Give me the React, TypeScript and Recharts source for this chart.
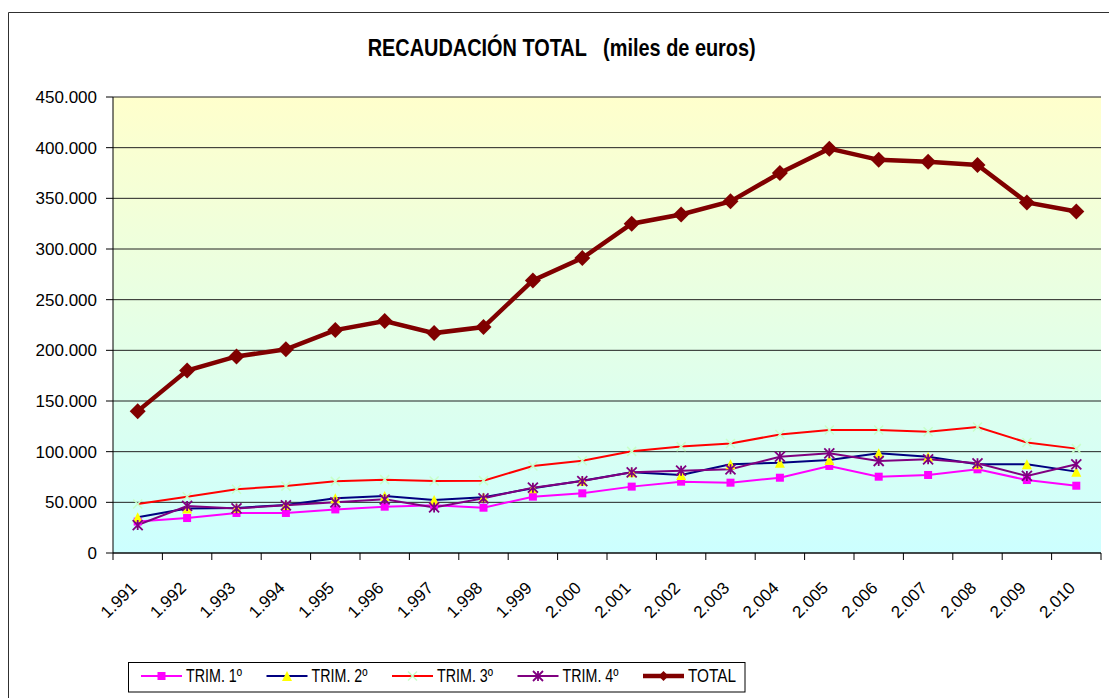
import React from 'react';
import { LineChart, Line, XAxis, YAxis, CartesianGrid } from 'recharts';

// Años (etiquetas del eje X)
const years = [
  '1.991', '1.992', '1.993', '1.994', '1.995', '1.996', '1.997', '1.998', '1.999', '2.000',
  '2.001', '2.002', '2.003', '2.004', '2.005', '2.006', '2.007', '2.008', '2.009', '2.010'
];

// Recaudación en miles de euros
const trim1 = [31000, 34500, 39500, 39500, 43000, 45700, 47000, 44700, 55600, 58900, 65500, 70400, 69400, 74300, 85900, 75300, 77000, 82600, 72000, 66400];
const trim2 = [35200, 44000, 44500, 47400, 54000, 56200, 52300, 55000, 63800, 71400, 79600, 77000, 87500, 89100, 91800, 98400, 95000, 87500, 87500, 80300];
const trim3 = [48400, 55600, 63000, 66000, 70700, 72400, 71000, 71400, 85900, 91000, 100300, 105000, 108000, 117000, 121400, 121400, 119700, 124300, 109000, 103000];
const trim4 = [27600, 46400, 44000, 47000, 50000, 53000, 45000, 54000, 64500, 71000, 79600, 81200, 82600, 95000, 98400, 90800, 92500, 88500, 76000, 87500];
const total = [140000, 180000, 194000, 201000, 220000, 229000, 217000, 223000, 269000, 291000, 325000, 334000, 347000, 375000, 399000, 388000, 386000, 383000, 346000, 337000];

const yTicks = [0, 50000, 100000, 150000, 200000, 250000, 300000, 350000, 400000, 450000];

const W = 1109;
const H = 698;
const PLOT_LEFT = 113;
const PLOT_RIGHT = 1101;
const PLOT_TOP = 97;
const PLOT_BOTTOM = 553;
const STEP = (PLOT_RIGHT - PLOT_LEFT) / years.length;
const FONT = '"Liberation Sans", Arial, sans-serif';

const data = years.map((year, i) => ({
  year,
  t1: trim1[i],
  t2: trim2[i],
  t3: trim3[i],
  t4: trim4[i],
  total: total[i]
}));

type Shape = 'square' | 'triangle' | 'cross' | 'star' | 'diamond';

const series: { key: string; name: string; stroke: string; width: number; shape: Shape; fill: string; size: number }[] = [
  { key: 't1', name: 'TRIM. 1º', stroke: '#FF00FF', width: 2, shape: 'square', fill: '#FF00FF', size: 8 },
  { key: 't2', name: 'TRIM. 2º', stroke: '#000080', width: 2, shape: 'triangle', fill: '#FFFF00', size: 10 },
  { key: 't3', name: 'TRIM. 3º', stroke: '#FF0000', width: 2, shape: 'cross', fill: '#C8FFC8', size: 9 },
  { key: 't4', name: 'TRIM. 4º', stroke: '#800080', width: 2, shape: 'star', fill: '#800080', size: 10 },
  { key: 'total', name: 'TOTAL', stroke: '#800000', width: 4.5, shape: 'diamond', fill: '#800000', size: 16 }
];

const Marker = ({ cx, cy, shape, fill, size }: { cx: number; cy: number; shape: Shape; fill: string; size: number }) => {
  const h = size / 2;
  if (shape === 'square') return <rect x={cx - h} y={cy - h} width={size} height={size} fill={fill} />;
  if (shape === 'triangle')
    return <path d={`M${cx},${cy - h} L${cx + h},${cy + h} L${cx - h},${cy + h} Z`} fill={fill} />;
  if (shape === 'cross')
    return (
      <path d={`M${cx - h},${cy - h} L${cx + h},${cy + h} M${cx + h},${cy - h} L${cx - h},${cy + h}`} stroke={fill} strokeWidth={1.5} />
    );
  if (shape === 'star')
    return (
      <path
        d={`M${cx - h},${cy - h} L${cx + h},${cy + h} M${cx + h},${cy - h} L${cx - h},${cy + h} M${cx},${cy - h} L${cx},${cy + h}`}
        stroke={fill}
        strokeWidth={1.8}
      />
    );
  return <path d={`M${cx},${cy - h} L${cx + h},${cy} L${cx},${cy + h} L${cx - h},${cy} Z`} fill={fill} />;
};

const XTick = (props: any) => {
  const { x, y, payload, index } = props;
  const half = STEP / 2;
  const tx = x;
  const ty = y + 36;
  return (
    <g>
      <line x1={x - half} x2={x - half} y1={y} y2={y + 7} stroke="#000" />
      {index === years.length - 1 && <line x1={x + half} x2={x + half} y1={y} y2={y + 7} stroke="#000" />}
      <text
        x={tx}
        y={ty}
        transform={`rotate(-45 ${tx} ${ty})`}
        textAnchor="end"
        fontSize={17}
        fontFamily={FONT}
        fill="#000"
      >
        {payload.value}
      </text>
    </g>
  );
};

const fmt = (v: number) => v.toLocaleString('de-DE');

export default function App() {
  return (
    <div style={{ position: 'fixed', left: 0, top: 0, width: W, height: H, overflow: 'hidden', background: '#fff' }}>
      <LineChart width={W} height={H} data={data} margin={{ top: PLOT_TOP, right: W - PLOT_RIGHT, bottom: 0, left: 0 }}>
        <defs>
          <linearGradient id="plotBg" x1="0" y1="0" x2="0" y2="1">
            <stop offset="0%" stopColor="#FFFFCC" />
            <stop offset="100%" stopColor="#CCFFFF" />
          </linearGradient>
        </defs>
        <CartesianGrid horizontal vertical={false} stroke="#222" fill="url(#plotBg)" fillOpacity={1} />
        <XAxis
          dataKey="year"
          height={H - PLOT_BOTTOM}
          padding={{ left: STEP / 2, right: STEP / 2 }}
          interval={0}
          tickLine={false}
          tickSize={0}
          tickMargin={0}
          axisLine={{ stroke: '#000' }}
          tick={<XTick />}
        />
        <XAxis xAxisId="top" orientation="top" height={0} tick={false} tickLine={false} axisLine={{ stroke: '#A0A0A0' }} />
        <YAxis
          width={PLOT_LEFT}
          domain={[0, 450000]}
          ticks={yTicks}
          interval={0}
          tickFormatter={fmt}
          tickSize={7}
          tickMargin={9}
          axisLine={{ stroke: '#000' }}
          tickLine={{ stroke: '#000' }}
          tick={{ fill: '#000', fontSize: 17, fontFamily: FONT }}
        />
        <YAxis yAxisId="right" orientation="right" width={0} domain={[0, 450000]} tick={false} tickLine={false} axisLine={{ stroke: '#909090' }} />
        {series.map((s) => (
          <Line
            key={s.key}
            dataKey={s.key}
            name={s.name}
            stroke={s.stroke}
            strokeWidth={s.width}
            isAnimationActive={false}
            activeDot={false}
            dot={(p: any) => (
              <Marker key={`${s.key}-${p.index}`} cx={p.cx} cy={p.cy} shape={s.shape} fill={s.fill} size={s.size} />
            )}
          />
        ))}
      </LineChart>

      {/* Título, marco y leyenda */}
      <svg width={W} height={H} style={{ position: 'absolute', left: 0, top: 0, pointerEvents: 'none' }}>
        <path d={`M8.5,${H} L8.5,12.5 L${W},12.5`} fill="none" stroke="#303030" />
        <text
          x={561.7}
          y={56}
          textAnchor="middle"
          fontSize={24}
          fontWeight="bold"
          fontFamily={FONT}
          textLength={388}
          lengthAdjust="spacingAndGlyphs"
          style={{ whiteSpace: 'pre' }}
        >
          {'RECAUDACIÓN TOTAL   (miles de euros)'}
        </text>
        <rect x={128.5} y={662.5} width={616.5} height={29.5} fill="#fff" stroke="#000" />
        {series.map((s, i) => {
          const x1 = 141 + i * 125.5;
          const x2 = x1 + 41;
          const cy = 676;
          return (
            <g key={s.key}>
              <line x1={x1} x2={x2} y1={cy} y2={cy} stroke={s.stroke} strokeWidth={s.width} />
              <Marker cx={(x1 + x2) / 2} cy={cy} shape={s.shape} fill={s.fill} size={s.shape === 'diamond' ? 10 : s.size} />
              <text
                x={x2 + 4}
                y={682}
                fontSize={18}
                fontFamily={FONT}
                textLength={s.key === 'total' ? 48 : 56}
                lengthAdjust="spacingAndGlyphs"
              >
                {s.name}
              </text>
            </g>
          );
        })}
      </svg>
    </div>
  );
}
